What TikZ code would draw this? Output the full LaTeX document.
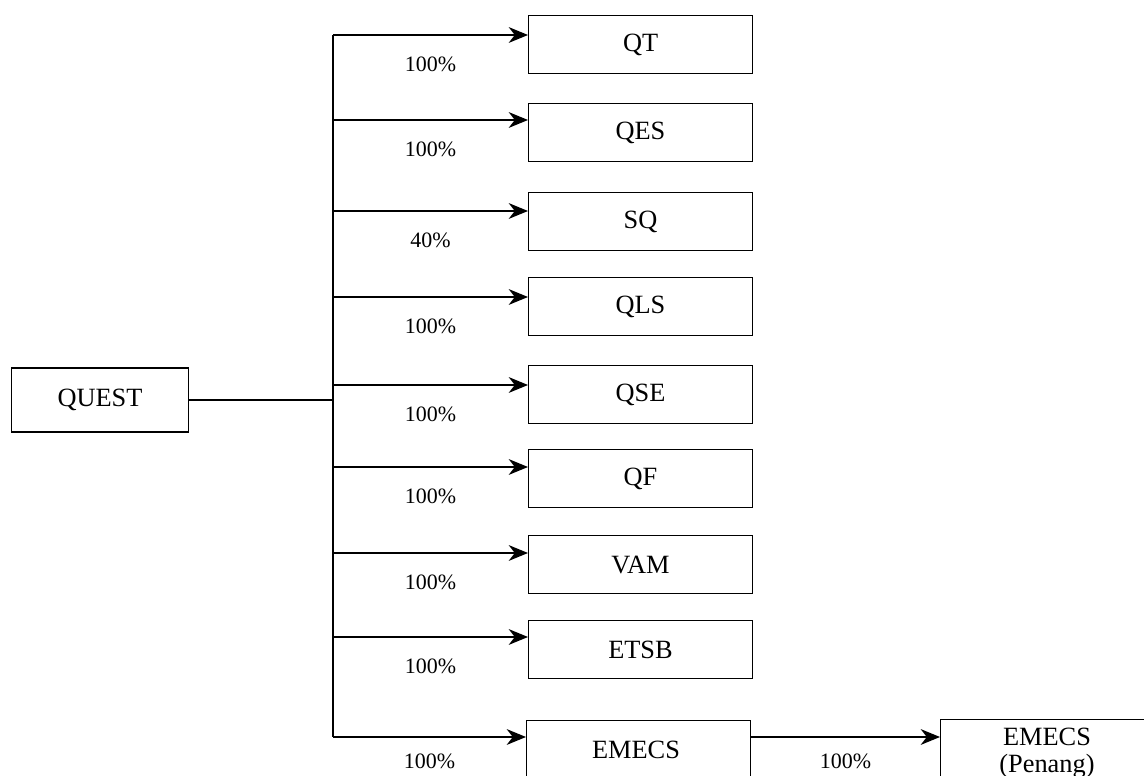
\documentclass[tikz,border=0pt]{standalone}
\usepackage{fontspec}
\setmainfont{Liberation Serif}
\usetikzlibrary{arrows.meta}

\begin{document}
\begin{tikzpicture}[x=0.02cm,y=-0.02cm,
  unitbox/.style={draw,line width=0.6pt,minimum width=4.48cm,minimum height=1.16cm,inner sep=0pt,anchor=north west,font=\fontsize{15}{17}\selectfont},
  pct/.style={inner sep=0pt,font=\fontsize{12.5}{14}\selectfont},
  link/.style={line width=0.7pt,-{Stealth[length=11pt,width=9pt,inset=3.5pt]}}]
\useasboundingbox (0,0) rectangle (1144,776);
% holding company
\node[draw,line width=0.6pt,minimum width=3.54cm,minimum height=1.28cm,inner sep=0pt,font=\fontsize{15}{17}\selectfont] (quest) at (100,400) {QUEST};
% subsidiaries
\node[unitbox,line width=0.8pt] (qt) at (528,15) {QT};
\node[unitbox] (qes) at (528,103) {QES};
\node[unitbox] (sq) at (528,192) {SQ};
\node[unitbox] (qls) at (528,277) {QLS};
\node[unitbox] (qse) at (528,365) {QSE};
\node[unitbox] (qf) at (528,449) {QF};
\node[unitbox] (vam) at (528,535) {VAM};
\node[unitbox] (etsb) at (528,620) {ETSB};
\node[unitbox,minimum height=1.4cm] (emecs) at (526,720) {};
\node[font=\fontsize{15}{17}\selectfont,inner sep=0pt] (emecst) at (636,750) {EMECS};
\node[draw,line width=0.6pt,minimum width=4.3cm,minimum height=1.6cm,inner sep=0pt,anchor=north west] (penang) at (940,719) {};
\node[font=\fontsize{15}{15.5}\selectfont,inner sep=0pt,align=center] (penangt) at (1047,753) {EMECS\\(Penang)};
% trunk
\coordinate (j1) at (333,35);
\coordinate (j2) at (333,120);
\coordinate (j3) at (333,211);
\coordinate (j4) at (333,297);
\coordinate (j5) at (333,385);
\coordinate (j6) at (333,467);
\coordinate (j7) at (333,553);
\coordinate (j8) at (333,637);
\coordinate (j9) at (333,737);
\draw[line width=1pt] (j1) -- (j9);
\draw[line width=1pt] (quest.east) -- (quest.east -| j1);
% branches
\draw[link] (j1) -- (j1 -| qt.west) node[pct,midway,below=12pt] (p1) {100\%};
\draw[link] (j2) -- (j2 -| qes.west) node[pct,midway,below=12pt] (p2) {100\%};
\draw[link] (j3) -- (j3 -| sq.west) node[pct,midway,below=12pt] (p3) {40\%};
\draw[link] (j4) -- (j4 -| qls.west) node[pct,midway,below=12pt] (p4) {100\%};
\draw[link] (j5) -- (j5 -| qse.west) node[pct,midway,below=12pt] (p5) {100\%};
\draw[link] (j6) -- (j6 -| qf.west) node[pct,midway,below=12pt] (p6) {100\%};
\draw[link] (j7) -- (j7 -| vam.west) node[pct,midway,below=12pt] (p7) {100\%};
\draw[link] (j8) -- (j8 -| etsb.west) node[pct,midway,below=12pt] (p8) {100\%};
\draw[link] (j9) -- (j9 -| emecs.west) node[pct,midway,below=9pt] (p9) {100\%};
\draw[link] (j9 -| emecs.east) -- (j9 -| penang.west) node[pct,midway,below=9pt] (p10) {100\%};
\end{tikzpicture}
\end{document}
